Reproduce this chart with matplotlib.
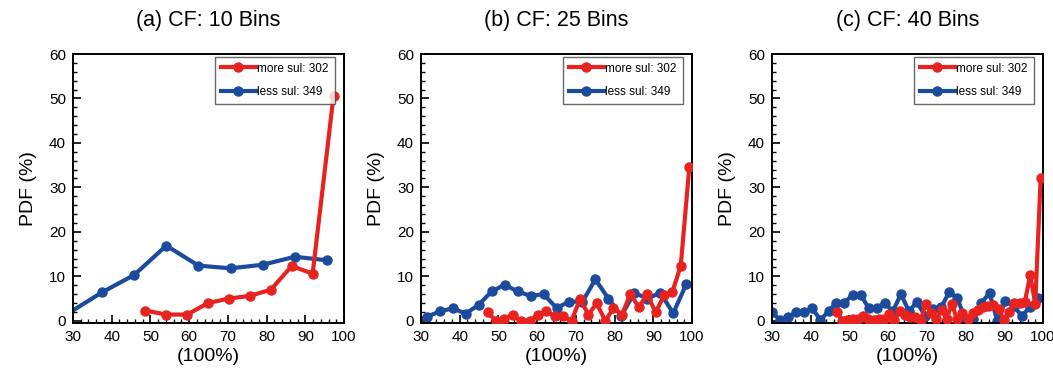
import matplotlib
matplotlib.use("Agg")
import matplotlib.pyplot as plt
from matplotlib.ticker import MultipleLocator

plt.rcParams["font.family"] = ["Liberation Sans", "DejaVu Sans"]

# ---------------------------------------------------------------------------
# Data (PDF in %, bin centres in CF %)
# ---------------------------------------------------------------------------

titles = ["(a) CF: 10 Bins", "(b) CF: 25 Bins", "(c) CF: 40 Bins"]
more_label = "more sul: 302"
less_label = "less sul: 349"

# (a) 10 bins
more_x_10 = [48.7, 54.1, 59.5, 64.9, 70.3, 75.7, 81.1, 86.5, 91.9, 97.3]
more_y_10 = [2.3, 1.4, 1.4, 4.0, 5.0, 5.6, 7.0, 12.3, 10.6, 50.6]
less_x_10 = [29.2, 37.5, 45.8, 54.1, 62.4, 70.7, 79.0, 87.3, 95.6]
less_y_10 = [1.9, 6.4, 10.3, 16.9, 12.4, 11.8, 12.6, 14.4, 13.6]

# (b) 25 bins
more_x_25 = [47.2, 49.4, 51.5, 53.7, 55.9, 58.1, 60.2, 62.4, 64.6, 66.7,
             68.9, 71.1, 73.2, 75.4, 77.6, 79.7, 81.9, 84.1, 86.3, 88.4,
             90.6, 92.8, 94.9, 97.1, 99.3]
more_y_25 = [1.9, 0.0, 0.5, 1.3, 0.0, 0.0, 1.4, 2.1, 1.0, 1.0,
             0.0, 5.0, 1.4, 3.9, 0.0, 2.8, 1.4, 6.0, 3.0, 6.0,
             1.9, 5.7, 6.4, 12.4, 34.5]
less_x_25 = [28.15, 31.5, 34.85, 38.2, 41.55, 44.9, 48.25, 51.6, 54.95, 58.3,
             61.65, 65.0, 68.35, 71.7, 75.05, 78.4, 81.75, 85.1, 88.45, 91.8,
             95.15, 98.5]
less_y_25 = [0.0, 0.9, 2.1, 2.8, 1.6, 3.6, 6.6, 8.1, 6.6, 5.6,
             6.0, 2.9, 4.3, 4.3, 9.3, 5.0, 1.1, 6.3, 5.0, 6.3,
             1.7, 8.2]

# (c) 40 bins
more_x_40 = [46.8, 48.2, 49.5, 50.9, 52.2, 53.6, 54.9, 56.3, 57.6, 58.9,
             60.3, 61.6, 63.0, 64.3, 65.7, 67.0, 68.4, 69.7, 71.1, 72.4,
             73.8, 75.1, 76.5, 77.8, 79.2, 80.5, 81.8, 83.2, 84.5, 85.9,
             87.2, 88.6, 89.9, 91.3, 92.6, 94.0, 95.3, 96.7, 98.0, 99.4]
more_y_40 = [2.0, 0.0, 0.2, 0.5, 0.3, 1.0, 0.3, 0.2, 0.3, 0.3,
             1.5, 0.2, 2.2, 1.3, 0.8, 0.8, 0.2, 3.7, 1.8, 0.3,
             2.5, 0.5, 3.7, 0.3, 1.8, 0.3, 1.7, 2.5, 3.2, 3.3,
             3.6, 2.6, 0.2, 2.0, 4.0, 4.0, 4.2, 10.3, 3.7, 32.2]
less_x_40 = [30.0, 32.1, 34.2, 36.2, 38.3, 40.4, 42.5, 44.6, 46.6, 48.7,
             50.8, 52.9, 55.0, 57.0, 59.1, 61.2, 63.3, 65.4, 67.4, 69.5,
             71.6, 73.7, 75.8, 77.8, 79.9, 82.0, 84.1, 86.2, 88.2, 90.3,
             92.4, 94.5, 96.6, 98.6]
less_y_40 = [1.9, 0.2, 0.8, 1.9, 1.9, 2.8, 0.2, 2.1, 4.1, 4.1,
             5.8, 5.9, 2.8, 2.8, 4.1, 2.1, 6.0, 2.1, 4.3, 1.1,
             2.6, 3.0, 6.5, 5.2, 0.4, 0.4, 4.1, 6.2, 0.0, 4.5,
             3.4, 1.1, 3.0, 5.2]

panels = [
    (more_x_10, more_y_10, less_x_10, less_y_10),
    (more_x_25, more_y_25, less_x_25, less_y_25),
    (more_x_40, more_y_40, less_x_40, less_y_40),
]

RED = "#e8231f"
BLUE = "#1c4b9e"

# ---------------------------------------------------------------------------
# Figure
# ---------------------------------------------------------------------------

fig = plt.figure(figsize=(10.53, 3.85), dpi=100)
lefts = [73 / 1053, 421 / 1053, 772 / 1053]
width = 271 / 1053
bottom = 1 - 323 / 385
height = 269 / 385

for i, (mx, my, lx, ly) in enumerate(panels):
    ax = fig.add_axes([lefts[i], bottom, width, height])

    # hide markers of bins that fall left of the axis
    l_mark = [k for k, x in enumerate(lx) if x >= 29.9]

    ax.plot(mx, my, color=RED, lw=3.0, marker="o", ms=6.5,
            label=more_label, zorder=3)
    ax.plot(lx, ly, color=BLUE, lw=3.0, marker="o", ms=6.5,
            markevery=l_mark, label=less_label, zorder=2)

    ax.set_xlim(30, 100)
    ax.set_ylim(-0.5, 60)
    ax.set_xticks(range(30, 101, 10))
    ax.set_yticks(range(0, 61, 10))
    ax.xaxis.set_minor_locator(MultipleLocator(2))
    ax.yaxis.set_minor_locator(MultipleLocator(2))
    ax.tick_params(which="major", direction="in", length=6, width=1.2,
                   labelsize=11, top=False, right=False, pad=5)
    ax.tick_params(which="minor", direction="in", length=3, width=1.0,
                   top=False, right=False)
    for s in ax.spines.values():
        s.set_linewidth(1.4)

    ax.set_title(titles[i], fontsize=15.5, pad=20)
    ax.set_xlabel("(100%)", fontsize=14, labelpad=3)
    ax.set_ylabel("PDF (%)", fontsize=14, labelpad=9)

    leg = ax.legend(loc="upper right", bbox_to_anchor=(0.965, 0.99),
                    fontsize=8.5, frameon=True, fancybox=False,
                    handlelength=3.0, handletextpad=0.1, borderpad=0.5,
                    labelspacing=1.0, borderaxespad=0.0)
    leg.get_frame().set_edgecolor("#444444")
    leg.get_frame().set_linewidth(1.0)

fig.savefig("out.png", dpi=100)
